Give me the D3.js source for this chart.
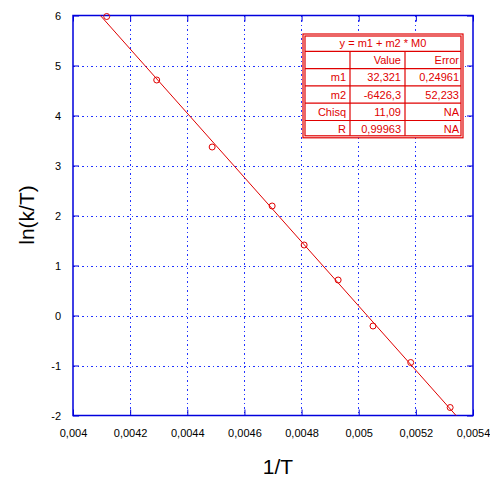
<!DOCTYPE html><html><head><script src="https://cdn.jsdelivr.net/npm/d3@7"></script>
<style>body{margin:0;background:#fff}text{font-family:"Liberation Sans",Arial,sans-serif}</style></head><body><svg id="c" width="490" height="481"></svg><script>
const xs=[0.004118,0.004293,0.004487,0.004697,0.004809,0.004928,0.00505,0.005182,0.00532];
const ys=[5.98,4.71,3.37,2.19,1.41,0.71,-0.21,-0.94,-1.84];
const xTicks=[0.004,0.0042,0.0044,0.0046,0.0048,0.005,0.0052,0.0054];
const yTicks=[-2,-1,0,1,2,3,4,5,6];
const m1=32.321,m2=-6426.3;
const tableRows=[["","Value","Error"],["m1","32,321","0,24961"],["m2","-6426,3","52,233"],["Chisq","11,09","NA"],["R","0,99963","NA"]];
const svg=d3.select("#c"),L=73,R=473,T=15.5,B=415.5,blue="#0000dd",red="#e00000";
const x=d3.scaleLinear().domain([0.004,0.0054]).range([L,R]);
const y=d3.scaleLinear().domain([-2,6]).range([B,T]);
const fmt=v=>String(+v.toFixed(4)).replace(".",",");
const g=svg.append("g").attr("shape-rendering","crispEdges");
xTicks.slice(1,-1).forEach(t=>g.append("line").attr("x1",x(t)).attr("x2",x(t)).attr("y1",T).attr("y2",B).attr("stroke","#2233ff").attr("stroke-dasharray","1.5,3"));
yTicks.slice(1,-1).forEach(t=>g.append("line").attr("y1",Math.round(y(t))+0.5).attr("y2",Math.round(y(t))+0.5).attr("x1",L).attr("x2",R).attr("stroke","#2233ff").attr("stroke-dasharray","1.5,3"));
svg.append("g").attr("transform",`translate(0,${B})`).call(d3.axisBottom(x).tickValues(xTicks).tickFormat(fmt).tickSize(-6).tickPadding(14)).call(a=>{a.select(".domain").remove();a.selectAll("line").attr("stroke",blue);a.selectAll("text").attr("font-size",11).attr("fill","#000")});
svg.append("g").attr("transform",`translate(${L},0)`).call(d3.axisLeft(y).tickValues(yTicks).tickFormat(d=>d).tickSize(-6).tickPadding(12)).call(a=>{a.select(".domain").remove();a.selectAll("line").attr("stroke",blue);a.selectAll("text").attr("font-size",11).attr("fill","#000")});
svg.append("g").attr("transform",`translate(${R},0)`).call(d3.axisRight(y).tickValues(yTicks).tickFormat("").tickSize(-6)).call(a=>{a.select(".domain").remove();a.selectAll("line").attr("stroke",blue)});
svg.append("g").attr("transform",`translate(0,${T})`).call(d3.axisTop(x).tickValues(xTicks).tickFormat("").tickSize(-6)).call(a=>{a.select(".domain").remove();a.selectAll("line").attr("stroke",blue)});
svg.append("rect").attr("x",L).attr("y",T).attr("width",R-L).attr("height",B-T).attr("fill","none").attr("stroke",blue).attr("stroke-width",1.5);
const x0=(m1-6)/-m2,x1=(m1+2)/-m2;
svg.append("line").attr("x1",x(x0)).attr("y1",y(m1+m2*x0)).attr("x2",x(x1)).attr("y2",y(m1+m2*x1)).attr("stroke",red).attr("stroke-width",1);
svg.selectAll("circle.p").data(xs).join("circle").attr("cx",d=>x(d)).attr("cy",(d,i)=>y(ys[i])).attr("r",3).attr("fill","none").attr("stroke",red);
svg.append("text").attr("x",278).attr("y",474).attr("text-anchor","middle").attr("font-size",21).text("1/T");
svg.append("text").attr("transform","translate(34,215) rotate(-90)").attr("text-anchor","middle").attr("font-size",21).text("ln(k/T)");
const tx=303,ty=34,tw=160,rh=17.3,cols=[303,350,405,463];
const tb=svg.append("g");
tb.append("rect").attr("x",tx).attr("y",ty).attr("width",tw).attr("height",rh*6).attr("fill","#fff").attr("stroke",red).attr("stroke-width",1.2);
tb.append("rect").attr("x",tx+2).attr("y",ty+2).attr("width",tw-4).attr("height",rh*6-4).attr("fill","none").attr("stroke",red).attr("stroke-width",1.2);
for(let i=1;i<6;i++)tb.append("line").attr("x1",tx+2).attr("x2",tx+tw-2).attr("y1",ty+rh*i).attr("y2",ty+rh*i).attr("stroke",red).attr("stroke-width",1.2);
[cols[1],cols[2]].forEach(c=>tb.append("line").attr("x1",c).attr("x2",c).attr("y1",ty+rh).attr("y2",ty+rh*6-2).attr("stroke",red).attr("stroke-width",1.2));
tb.append("text").attr("x",tx+tw/2).attr("y",ty+rh*0.5+4).attr("text-anchor","middle").attr("font-size",11).attr("fill",red).text("y = m1 + m2 * M0");
tableRows.forEach((r,i)=>r.forEach((s,j)=>tb.append("text").attr("x",cols[j+1]-4).attr("y",ty+rh*(i+1.5)+4).attr("text-anchor","end").attr("font-size",11).attr("fill",red).text(s)));
</script></body></html>
